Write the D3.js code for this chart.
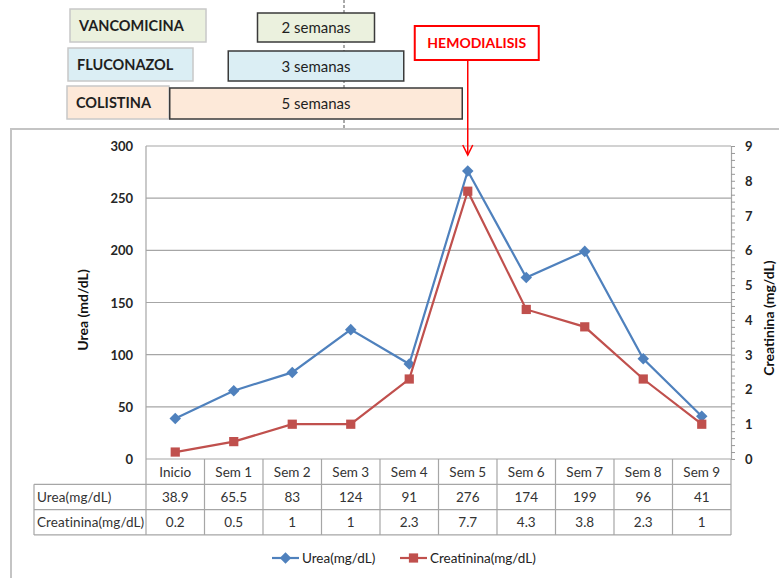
<!DOCTYPE html>
<html>
<head>
<meta charset="utf-8">
<script src="https://cdn.jsdelivr.net/npm/d3@7"></script>
<style>
  body { margin: 0; background: #fff; }
  svg { display: block; font-family: Lato, "Open Sans", sans-serif; }
</style>
</head>
<body>
<div id="chart"></div>
<script>
const categories = ['Inicio', 'Sem 1', 'Sem 2', 'Sem 3', 'Sem 4', 'Sem 5', 'Sem 6', 'Sem 7', 'Sem 8', 'Sem 9'];
const urea = [38.9, 65.5, 83, 124, 91, 276, 174, 199, 96, 41];
const creatinina = [0.2, 0.5, 1, 1, 2.3, 7.7, 4.3, 3.8, 2.3, 1];
const seriesNames = ['Urea(mg/dL)', 'Creatinina(mg/dL)'];
const leftTicks = [0, 50, 100, 150, 200, 250, 300];
const rightTicks = [0, 1, 2, 3, 4, 5, 6, 7, 8, 9];
const drugs = ['VANCOMICINA', 'FLUCONAZOL', 'COLISTINA'];
const weeks = [2, 3, 5];
const event = 'HEMODIALISIS';
const eventAt = 'Sem 5';

const width = 779, height = 578;
const plotL = 146, plotR = 731, plotT = 146, plotB = 459;
const blue = '#4f81bd', red = '#c0504d', grid = '#a6a6a6', txt = '#262626';

const svg = d3.select('#chart').append('svg')
  .attr('width', width).attr('height', height);

const x = d3.scaleBand().domain(categories).range([plotL, plotR]);
const yL = d3.scaleLinear().domain([0, 300]).range([plotB, plotT]);
const yR = d3.scaleLinear().domain([0, 9]).range([plotB, plotT]);
const cx = d => x(d) + x.bandwidth() / 2;

// dashed guide behind the boxes
svg.append('line')
  .attr('x1', 344).attr('x2', 344).attr('y1', 0).attr('y2', 129)
  .attr('stroke', '#555').attr('stroke-dasharray', '3 2').attr('stroke-width', 1);

// outer chart frame
svg.append('path')
  .attr('d', `M11,${height} L11,129 L${width},129`)
  .attr('fill', 'none').attr('stroke', '#c4c4c4').attr('stroke-width', 2);

// treatment boxes
const rows = [
  {lx: 70, lw: 136, ly: 9, dy: 13, bottom: 42, fill: '#ebf1de'},
  {lx: 68, lw: 125, ly: 48, dy: 51, bottom: 81, fill: '#dbeef4'},
  {lx: 67, lw: 102, ly: 86, dy: 88, bottom: 119, fill: '#fde9d9'}
];
const boxCenter = 316;
drugs.forEach((name, i) => {
  const r = rows[i];
  svg.append('rect')
    .attr('x', r.lx).attr('y', r.ly).attr('width', r.lw).attr('height', r.bottom - r.ly)
    .attr('fill', r.fill).attr('stroke', '#c8c8c8').attr('stroke-width', 1.5);
  svg.append('text')
    .attr('x', r.lx + 9).attr('y', (r.ly + r.bottom) / 2 + 5)
    .attr('font-size', 14.5).attr('font-weight', 'bold').attr('fill', '#1f1f1f')
    .text(name);
  const w = weeks[i] * x.bandwidth();
  svg.append('rect')
    .attr('x', boxCenter - w / 2).attr('y', r.dy).attr('width', w).attr('height', r.bottom - r.dy)
    .attr('fill', r.fill).attr('stroke', '#3a3a3a').attr('stroke-width', 1.5);
  svg.append('text')
    .attr('x', boxCenter).attr('y', (r.dy + r.bottom) / 2 + 5.5)
    .attr('text-anchor', 'middle').attr('font-size', 15).attr('fill', '#1f1f1f')
    .text(weeks[i] + ' semanas');
});

// gridlines
svg.append('g').selectAll('line').data(leftTicks.filter(d => d > 0)).join('line')
  .attr('x1', plotL).attr('x2', plotR)
  .attr('y1', d => yL(d)).attr('y2', d => yL(d))
  .attr('stroke', grid).attr('stroke-width', 1.2);

// plot borders
svg.append('line').attr('x1', plotL).attr('x2', plotL).attr('y1', plotT).attr('y2', plotB)
  .attr('stroke', grid).attr('stroke-width', 1.2);

// left axis labels
svg.append('g').selectAll('text').data(leftTicks).join('text')
  .attr('x', 133).attr('y', d => yL(d) + 5)
  .attr('text-anchor', 'end').attr('font-size', 13).attr('font-weight', 'bold').attr('fill', txt)
  .text(d => d);

// right axis
const rAxis = svg.append('g').attr('transform', `translate(${plotR},0)`)
  .call(d3.axisRight(yR).tickValues(d3.range(0, 9.01, 0.2)).tickSize(4).tickFormat(''));
rAxis.select('.domain').attr('stroke', grid).attr('stroke-width', 1.2);
rAxis.selectAll('.tick line').attr('stroke', '#999');
svg.append('g').selectAll('text').data(rightTicks).join('text')
  .attr('x', 745).attr('y', d => yR(d) + 5)
  .attr('font-size', 13).attr('font-weight', 'bold').attr('fill', txt)
  .text(d => d);

// axis titles
svg.append('text')
  .attr('transform', `translate(88,310) rotate(-90)`)
  .attr('text-anchor', 'middle').attr('font-size', 14).attr('font-weight', 'bold').attr('fill', '#111')
  .text('Urea (md/dL)');
svg.append('text')
  .attr('transform', `translate(774,318) rotate(-90)`)
  .attr('text-anchor', 'middle').attr('font-size', 14).attr('font-weight', 'bold').attr('fill', '#111')
  .text('Creatinina (mg/dL)');

// data table
const tblL = 34, rowH = 25.3;
const rowsY = [plotB, plotB + rowH, plotB + 2 * rowH, plotB + 3 * rowH];
const tbl = svg.append('g').attr('stroke', grid).attr('stroke-width', 1.2);
tbl.append('line').attr('x1', plotL).attr('x2', plotR).attr('y1', rowsY[0]).attr('y2', rowsY[0]);
[1, 2, 3].forEach(i => tbl.append('line')
  .attr('x1', tblL).attr('x2', plotR).attr('y1', rowsY[i]).attr('y2', rowsY[i]));
categories.forEach(c => tbl.append('line')
  .attr('x1', x(c)).attr('x2', x(c)).attr('y1', rowsY[0]).attr('y2', rowsY[3]));
tbl.append('line').attr('x1', plotR).attr('x2', plotR).attr('y1', rowsY[0]).attr('y2', rowsY[3]);
tbl.append('line').attr('x1', tblL).attr('x2', tblL).attr('y1', rowsY[1]).attr('y2', rowsY[3]);

const tt = svg.append('g').attr('font-size', 13.5).attr('fill', '#333');
tt.selectAll('.hdr').data(categories).join('text').attr('class', 'hdr')
  .attr('x', d => cx(d)).attr('y', rowsY[0] + rowH / 2 + 5).attr('text-anchor', 'middle')
  .text(d => d);
[urea, creatinina].forEach((vals, i) => {
  tt.append('text').attr('x', tblL + 3).attr('y', rowsY[i + 1] + rowH / 2 + 5)
    .attr('letter-spacing', 0.1).text(seriesNames[i]);
  tt.selectAll('.v' + i).data(vals).join('text').attr('class', 'v' + i)
    .attr('x', (d, j) => cx(categories[j])).attr('y', rowsY[i + 1] + rowH / 2 + 5)
    .attr('text-anchor', 'middle').text(d => d);
});

// series
const diamond = d3.symbol().type(d3.symbolDiamond2).size(85);
const square = d3.symbol().type(d3.symbolSquare).size(85);

svg.append('path')
  .datum(urea)
  .attr('fill', 'none').attr('stroke', blue).attr('stroke-width', 2.2)
  .attr('d', d3.line().x((d, i) => cx(categories[i])).y(d => yL(d)));
svg.append('g').selectAll('path').data(urea).join('path')
  .attr('transform', (d, i) => `translate(${cx(categories[i])},${yL(d)})`)
  .attr('d', diamond).attr('fill', blue);

svg.append('path')
  .datum(creatinina)
  .attr('fill', 'none').attr('stroke', red).attr('stroke-width', 2.2)
  .attr('d', d3.line().x((d, i) => cx(categories[i])).y(d => yR(d)));
svg.append('g').selectAll('path').data(creatinina).join('path')
  .attr('transform', (d, i) => `translate(${cx(categories[i])},${yR(d)})`)
  .attr('d', square).attr('fill', red);

// hemodialisis annotation
const ex = cx(eventAt);
svg.append('rect')
  .attr('x', ex - 53).attr('y', 26).attr('width', 124).attr('height', 34)
  .attr('fill', '#fff').attr('stroke', '#ff0000').attr('stroke-width', 2);
svg.append('text')
  .attr('x', ex + 9).attr('y', 48).attr('text-anchor', 'middle')
  .attr('font-size', 14).attr('font-weight', 'bold').attr('fill', '#ff0000')
  .text(event);
svg.append('line')
  .attr('x1', ex).attr('x2', ex).attr('y1', 60).attr('y2', 155)
  .attr('stroke', '#ff0000').attr('stroke-width', 1.5);
svg.append('path')
  .attr('d', `M${ex - 5},${145} L${ex},${155} L${ex + 5},${145}`)
  .attr('fill', 'none').attr('stroke', '#ff0000').attr('stroke-width', 1.5);

// legend
const lg = svg.append('g').attr('font-size', 13.5).attr('fill', '#222');
const legendItems = [
  {x: 272, color: blue, sym: diamond},
  {x: 400, color: red, sym: square}
];
legendItems.forEach((it, i) => {
  lg.append('line').attr('x1', it.x).attr('x2', it.x + 27).attr('y1', 558).attr('y2', 558)
    .attr('stroke', it.color).attr('stroke-width', 2.2);
  lg.append('path').attr('transform', `translate(${it.x + 13.5},558)`)
    .attr('d', it.sym).attr('fill', it.color);
  lg.append('text').attr('x', it.x + 30).attr('y', 563).text(seriesNames[i]);
});
</script>
</body>
</html>
